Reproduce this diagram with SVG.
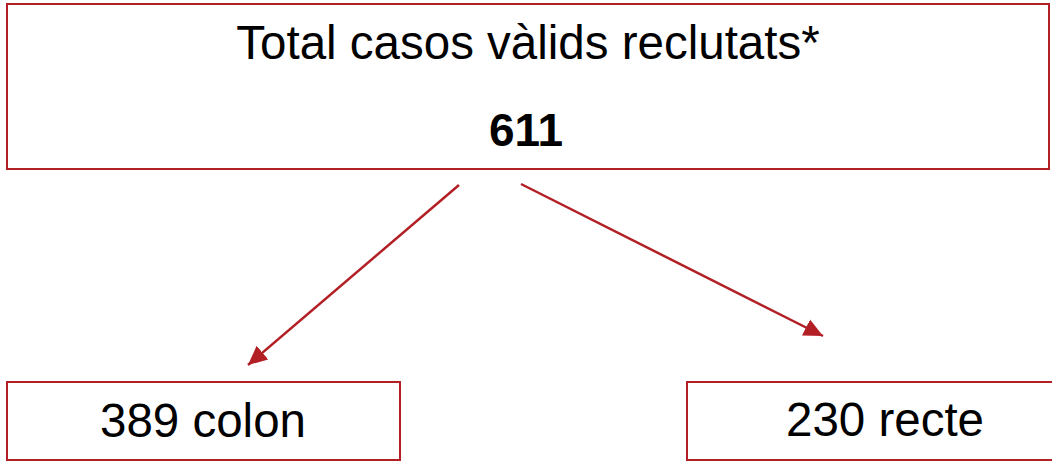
<svg xmlns="http://www.w3.org/2000/svg" width="1052" height="462" viewBox="0 0 1052 462">
<style>
.box{fill:#fff;stroke:#b22026;stroke-width:2}
.edge{stroke:#b22026;stroke-width:2.5;fill:none}
text{font-family:"Liberation Sans",Arial,sans-serif;fill:#000;text-anchor:middle}
.t{font-size:47.5px}
.b{font-size:46px;font-weight:bold}
</style>
<defs>
<marker id="ah" markerUnits="userSpaceOnUse" markerWidth="22" markerHeight="22" viewBox="0 0 22 22" refX="19" refY="11" orient="auto">
<path d="M0,2 L19,11 L0,20 Z" fill="#b22026"/>
</marker>
</defs>
<rect width="1052" height="462" fill="#fff"/>
<g id="total">
<rect class="box" x="7" y="4" width="1042" height="165"/>
<text class="t" x="528" y="59">Total casos vàlids reclutats*</text>
<text class="b" x="526" y="146">611</text>
</g>
<g id="colon">
<rect class="box" x="7" y="382" width="393" height="78"/>
<text class="t" x="203" y="437">389 colon</text>
</g>
<g id="recte">
<rect class="box" x="687" y="382" width="400" height="78"/>
<text class="t" x="885" y="436">230 recte</text>
</g>
<g id="connectors">
<line class="edge" x1="459" y1="185" x2="248" y2="365" marker-end="url(#ah)"/>
<line class="edge" x1="521" y1="184" x2="823" y2="336" marker-end="url(#ah)"/>
</g>
</svg>
